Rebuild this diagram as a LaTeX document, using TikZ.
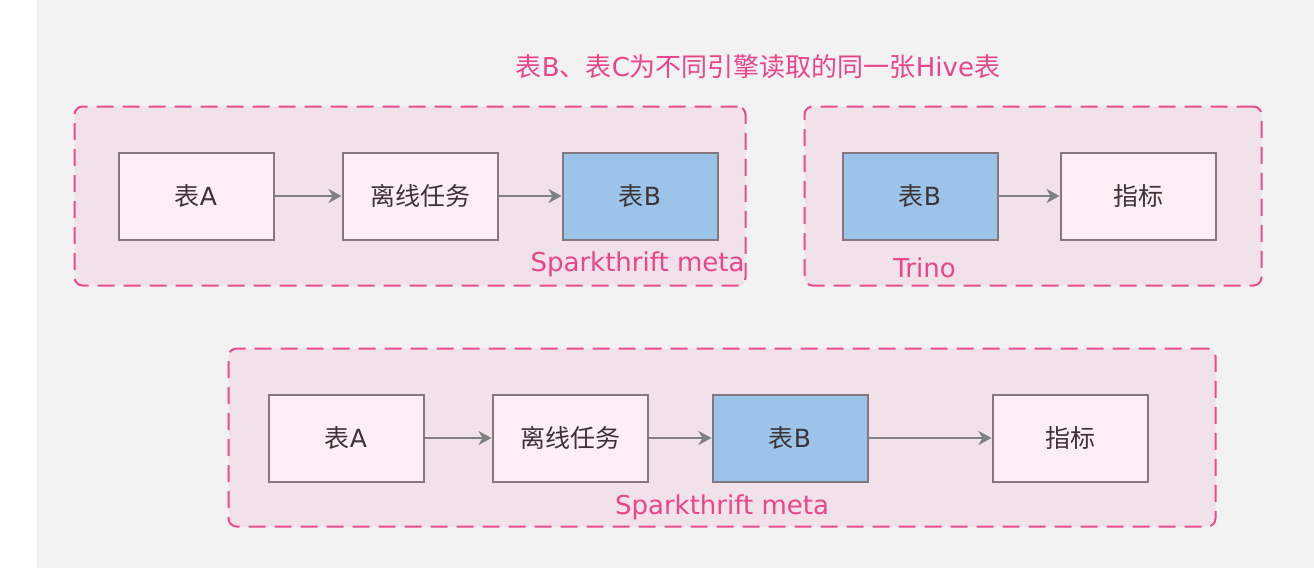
\documentclass[tikz,border=0pt]{standalone}
\definecolor{canvas}{HTML}{F2F2F2}
\definecolor{groupfill}{HTML}{F1E1E8}
\definecolor{groupline}{HTML}{EA4C91}
\definecolor{boxfill}{HTML}{FCEEF4}
\definecolor{boxline}{HTML}{85777F}
\definecolor{hiveblue}{HTML}{9BC4E8}
\definecolor{arrowgray}{HTML}{808080}
\definecolor{textdark}{HTML}{3D3337}
\definecolor{labelpink}{HTML}{E8458B}
\usepackage{fontspec}
\setmainfont{DejaVu Sans}
\newfontfamily\zhfont{Noto Sans CJK SC}
\newcommand\zh[1]{{\zhfont #1}}
\usepackage{tikz}
\usetikzlibrary{arrows.meta}
\tikzset{
  tbox/.style={rectangle,draw=boxline,fill=boxfill,line width=2pt,
               minimum width=155pt,minimum height=87pt,
               text=textdark,font=\fontsize{25}{29}\selectfont},
  flow/.style={-{Stealth[length=13pt,width=14pt,inset=4pt]},
               line width=2pt,arrowgray},
}

\begin{document}
\begin{tikzpicture}[x=1pt,y=-1pt,
      engine/.style={rectangle,draw=groupline,fill=groupfill,
                     rounded corners=8pt,line width=2pt,
                     dash pattern=on 17pt off 9pt},
      tag/.style={anchor=base,text=labelpink,inner sep=0pt,
                  font=\fontsize{26}{30}\selectfont},
    ]

    \useasboundingbox (0,0) rectangle (1314,568);
    \fill[white]  (0,0)  rectangle (37,568);
    \fill[canvas] (37,0) rectangle (1314,568);

    % engine groups
    \node[engine,minimum width=671pt,minimum height=179pt] (spark)  at (410,196)   {};
    \node[engine,minimum width=457pt,minimum height=179pt] (trino)  at (1033,196)  {};
    \node[engine,minimum width=987pt,minimum height=178pt] (joined) at (722,437.5) {};

    \node[tag] (title) at (758,76) {\zh{表}B\zh{、表}C\zh{为不同引擎读取的同一张}Hive\zh{表}};

    % spark side
    \node[tbox] (srcA)   at (196,196) {\zh{表}A};
    \node[tbox] (job)    at (420,196) {\zh{离线任务}};
    \node[tbox,fill=hiveblue] (tblB) at (640,196) {\zh{表}B};
    \node[tag] (sparkmeta) at (637.5,271) {Sparkthrift meta};

    % trino side
    \node[tbox,fill=hiveblue] (trinoB) at (920,196) {\zh{表}B};
    \node[tbox] (metric) at (1138,196) {\zh{指标}};
    \node[tag] (trinotag) at (924.5,277) {Trino};

    % single engine
    \node[tbox] (srcA2)   at (346,438) {\zh{表}A};
    \node[tbox] (job2)    at (570,438) {\zh{离线任务}};
    \node[tbox,fill=hiveblue] (tblB2) at (790,438) {\zh{表}B};
    \node[tbox] (metric2) at (1070,438) {\zh{指标}};
    \node[tag] (sparkmeta2) at (722,514) {Sparkthrift meta};

    \draw[flow] (srcA)   -- (job);
    \draw[flow] (job)    -- (tblB);
    \draw[flow] (trinoB) -- (metric);
    \draw[flow] (srcA2)  -- (job2);
    \draw[flow] (job2)   -- (tblB2);
    \draw[flow] (tblB2)  -- (metric2);

  \end{tikzpicture}
\end{document}
